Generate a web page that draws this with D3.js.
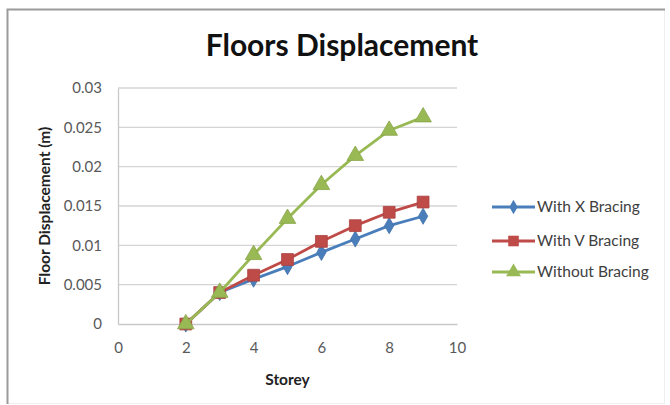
<!DOCTYPE html>
<html>
<head>
<meta charset="utf-8">
<script src="https://cdn.jsdelivr.net/npm/d3@7"></script>
<style>
  body { margin: 0; background: #fff; }
  text { font-family: Lato, "Open Sans", sans-serif; }
</style>
</head>
<body>
<div id="container"></div>
<script>
const w = 670;
const h = 405;
const p = {left: 118, top: 88, right: 213, bottom: 81};

const storeys = [2, 3, 4, 5, 6, 7, 8, 9];
const xBracing = [0, 0.0040, 0.0057, 0.0073, 0.0091, 0.0108, 0.0125, 0.0137];
const vBracing = [0, 0.0040, 0.0062, 0.0082, 0.0105, 0.0125, 0.0142, 0.0155];
const noBracing = [0, 0.0040, 0.0088, 0.0134, 0.0177, 0.0214, 0.0246, 0.0263];
const xTicks = [0, 2, 4, 6, 8, 10];
const yTicks = [0, 0.005, 0.01, 0.015, 0.02, 0.025, 0.03];
const seriesNames = ['With X Bracing', 'With V Bracing', 'Without Bracing'];
const colors = ['#4a7ebb', '#be4b48', '#98b954'];
const symbols = [d3.symbolDiamond, d3.symbolSquare, d3.symbolTriangle];
const symbolSizes = [75, 140, 120];

const series = [xBracing, vBracing, noBracing].map((vals, i) => ({
  name: seriesNames[i],
  color: colors[i],
  symbol: symbols[i],
  size: symbolSizes[i],
  values: storeys.map((s, j) => ({x: s, y: vals[j]}))
}));

const svg = d3.select('#container')
  .append('svg')
  .attr('width', w)
  .attr('height', h)
  .attr('viewBox', [0, 0, w, h]);

// chart frame
svg.append('rect')
  .attr('x', 7.5).attr('y', 9.5)
  .attr('width', 657).attr('height', 394)
  .attr('fill', '#fff')
  .attr('stroke', '#eee');
svg.append('path')
  .attr('d', 'M7.5,404V9.5H665')
  .attr('fill', 'none')
  .attr('stroke', '#9a9a9a')
  .attr('stroke-width', 2);

const x = d3.scaleLinear().domain([0, 10]).range([p.left, w - p.right]);
const y = d3.scaleLinear().domain([0, 0.03]).range([h - p.bottom, p.top]);

// gridlines
svg.append('g')
  .selectAll('line')
  .data(yTicks.slice(1))
  .join('line')
    .attr('x1', x(0)).attr('x2', x(10))
    .attr('y1', d => y(d)).attr('y2', d => y(d))
    .attr('stroke', '#d4d4d4')
    .attr('stroke-width', 1.3);

const xAxis = d3.axisBottom(x).tickValues(xTicks).tickSize(0).tickPadding(18);
const yAxis = d3.axisLeft(y).tickValues(yTicks).tickSize(0).tickPadding(16)
  .tickFormat(d => d === 0 ? '0' : d3.format('')(+d.toFixed(3)));

const gx = svg.append('g')
  .attr('transform', 'translate(0,' + y(0) + ')')
  .call(xAxis);
const gy = svg.append('g')
  .attr('transform', 'translate(' + x(0) + ',0)')
  .call(yAxis);

[gx, gy].forEach(g => {
  g.select('.domain').attr('stroke', '#c8c8c8').attr('stroke-width', 1.3);
  g.selectAll('text')
    .attr('fill', '#595959')
    .style('font-family', 'Lato, sans-serif')
    .style('font-size', '15px');
});

// lines and markers
const line = d3.line().x(d => x(d.x)).y(d => y(d.y));

series.forEach(s => {
  svg.append('path')
    .datum(s.values)
    .attr('fill', 'none')
    .attr('stroke', s.color)
    .attr('stroke-width', 2.8)
    .attr('stroke-linejoin', 'round')
    .attr('d', line);
  svg.append('g')
    .selectAll('path')
    .data(s.values)
    .join('path')
      .attr('transform', d => 'translate(' + x(d.x) + ',' + y(d.y) + ')')
      .attr('d', d3.symbol().type(s.symbol).size(s.size))
      .attr('fill', s.color)
      .attr('stroke', d3.color(s.color).darker(0.3))
      .attr('stroke-width', 0.8);
});

// title
svg.append('text')
  .attr('x', 342)
  .attr('y', 56)
  .attr('text-anchor', 'middle')
  .style('font-size', '30px')
  .style('font-weight', 'bold')
  .attr('fill', '#111')
  .text('Floors Displacement');

// axis titles
svg.append('text')
  .attr('x', (x(0) + x(10)) / 2)
  .attr('y', 385)
  .attr('text-anchor', 'middle')
  .style('font-size', '15.5px')
  .style('font-weight', 'bold')
  .attr('fill', '#222')
  .text('Storey');

svg.append('text')
  .attr('transform', 'translate(50,' + (y(0) + y(0.03)) / 2 + ') rotate(-90)')
  .attr('text-anchor', 'middle')
  .style('font-size', '15.5px')
  .style('font-weight', 'bold')
  .attr('fill', '#222')
  .text('Floor Displacement (m)');

// legend
const legendY = [207, 241, 272];
const legend = svg.append('g');
series.forEach((s, i) => {
  const g = legend.append('g').attr('transform', 'translate(0,' + legendY[i] + ')');
  g.append('line')
    .attr('x1', 492).attr('x2', 535)
    .attr('stroke', s.color)
    .attr('stroke-width', 2.8);
  g.append('path')
    .attr('transform', 'translate(513.5,0)')
    .attr('d', d3.symbol().type(s.symbol).size(s.size * 0.8))
    .attr('fill', s.color);
  g.append('text')
    .attr('x', 537)
    .attr('dy', '0.35em')
    .style('font-size', '15.5px')
    .attr('fill', '#404040')
    .text(s.name);
});
</script>
</body>
</html>
